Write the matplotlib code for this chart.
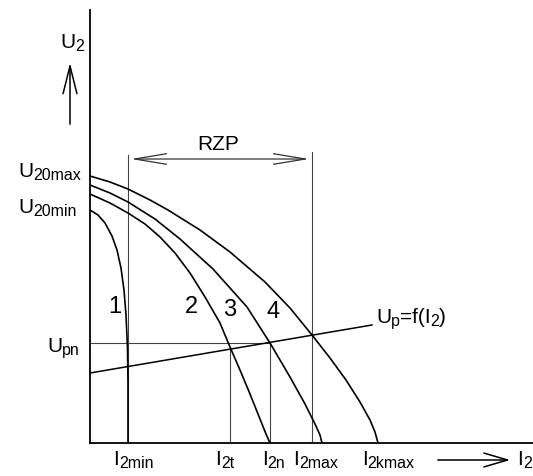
import matplotlib
matplotlib.use("Agg")
import matplotlib.pyplot as plt
from matplotlib.patches import FancyArrowPatch

plt.rcParams['font.family'] = ['Liberation Sans', 'DejaVu Sans']

# load characteristics U2 = f(I2) (arbitrary units)
i_1 = [0, 0.8, 1.5, 2.2, 2.7, 3.1, 3.4, 3.6, 3.75, 3.8, 3.8]
u_1 = [23.3, 22.8, 22.0, 20.7, 19.3, 17.5, 15.3, 12.8, 9.5, 6.0, 0]

i_2 = [0, 2, 3.8, 5.5, 7, 8.5, 10, 11.5, 13, 14, 15, 16, 17, 17.6, 18.0]
u_2 = [24.9, 24.0, 23.0, 21.9, 20.6, 19.0, 17.0, 14.6, 12.0, 9.6, 7.3, 4.9, 2.4, 0.9, 0]

i_3 = [0, 2, 3.8, 6.5, 9, 12.3, 15.7, 18, 20, 21.5, 22.5, 23.0, 23.2]
u_3 = [25.8, 25.0, 24.1, 22.4, 20.4, 17.4, 13.6, 10.0, 6.6, 3.9, 1.9, 0.8, 0]

i_4 = [0, 2, 3.8, 6, 7.8, 11, 14, 17.5, 20, 22.2, 24, 25.6, 27, 28, 28.5, 28.8]
u_4 = [26.7, 26.1, 25.4, 24.3, 23.3, 21.3, 19.1, 16.1, 13.5, 10.8, 8.5, 6.3, 4.1, 2.3, 1.1, 0]

# Up = f(I2) line
i_up = [0, 28.2]
u_up = [7.0, 11.8]

i2min = 3.8
i2t = 14.0
i2n = 18.0
i2max = 22.2
upn = 10.0
u_rzp = 28.4

fig = plt.figure(figsize=(5.33, 4.76), dpi=100)
ax = fig.add_axes([90 / 533, 33 / 476, 443 / 533, 433 / 476])
ax.set_xlim(0, 44.3)
ax.set_ylim(0, 43.3)
for s in ['top', 'right']:
    ax.spines[s].set_visible(False)
for s in ['left', 'bottom']:
    ax.spines[s].set_linewidth(1.3)
ax.set_xticks([])
ax.set_yticks([])

thin = dict(color='#444444', lw=0.8)
ax.plot([i2min, i2min], [0, 28.8], **thin)
ax.plot([i2max, i2max], [0, 29.1], **thin)
ax.plot([i2t, i2t], [0, 9.4], **thin)
ax.plot([i2n, i2n], [0, upn], **thin)
ax.plot([0, i2n], [upn, upn], **thin)

for i, u in [(i_1, u_1), (i_2, u_2), (i_3, u_3), (i_4, u_4)]:
    ax.plot(i, u, color='black', lw=1.2, solid_joinstyle='round')
ax.plot(i_up, u_up, color='black', lw=1.1)

# RZP range arrow
ax.add_patch(FancyArrowPatch((i2min, u_rzp), (i2max, u_rzp),
                             arrowstyle='<->,head_length=23,head_width=3.8',
                             mutation_scale=1, color='#333333', lw=0.9))
ax.text(10.7, 29.3, 'RZP', fontsize=15, va='baseline')

# axis direction arrows
ax.add_patch(FancyArrowPatch((-2.0, 31.6), (-2.0, 38.3),
                             arrowstyle='->,head_length=20,head_width=5',
                             mutation_scale=1, color='black', lw=1.1,
                             clip_on=False))
ax.add_patch(FancyArrowPatch((34.5, -1.7), (42.3, -1.7),
                             arrowstyle='->,head_length=17,head_width=5',
                             mutation_scale=1, color='black', lw=1.1,
                             clip_on=False))


def label(x, y, parts):
    # parts: list of (text, is_subscript)
    prev = None
    prev_sub = 0
    for txt, sub in parts:
        fs = 11.5 if sub else 15
        if prev is None:
            prev = ax.text(x, y, txt, fontsize=fs, va='baseline', ha='left',
                           clip_on=False)
        else:
            dy = -1.5 if sub else (1.5 if prev_sub else 0)
            prev = ax.annotate(txt, xy=(1, 0), xycoords=prev, fontsize=fs,
                               xytext=(0, dy), textcoords='offset points',
                               va='bottom', ha='left')
        prev_sub = sub


label(-3.0, 39.5, [('U', 0), ('2', 1)])
label(-7.2, 26.6, [('U', 0), ('20max', 1)])
label(-7.2, 23.0, [('U', 0), ('20min', 1)])
label(-4.3, 9.1, [('U', 0), ('pn', 1)])

label(2.3, -2.2, [('I', 0), ('2min', 1)])
label(12.5, -2.2, [('I', 0), ('2t', 1)])
label(17.2, -2.2, [('I', 0), ('2n', 1)])
label(20.3, -2.2, [('I', 0), ('2max', 1)])
label(27.2, -2.2, [('I', 0), ('2kmax', 1)])
label(42.7, -2.2, [('I', 0), ('2', 1)])

label(28.6, 12.0, [('U', 0), ('p', 1), ('=f(I', 0), ('2', 1), (')', 0)])

for txt, x, y in [('1', 2.5, 13.6), ('2', 10.1, 13.6), ('3', 14.0, 13.3), ('4', 18.3, 13.1)]:
    ax.text(x, y, txt, fontsize=17, ha='center', va='center')

fig.savefig('out.png', dpi=100)
